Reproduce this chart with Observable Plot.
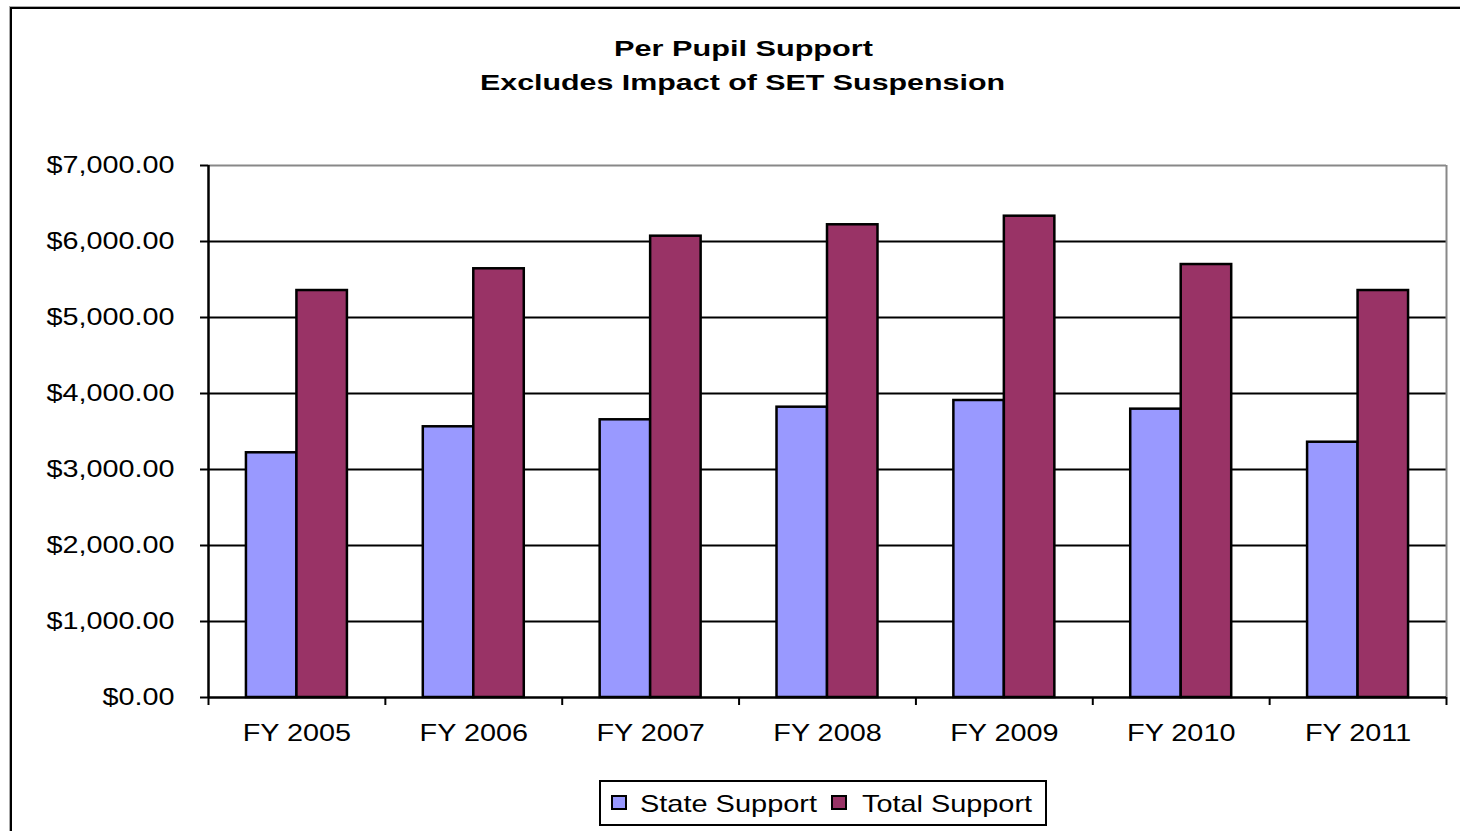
<!DOCTYPE html>
<html><head><meta charset="utf-8">
<script src="https://cdn.jsdelivr.net/npm/d3@7"></script>
<script src="https://cdn.jsdelivr.net/npm/@observablehq/plot@0.6"></script>
<style>
html,body{margin:0;padding:0;background:#fff;overflow:hidden;}
#wrap{position:relative;width:1460px;height:831px;overflow:hidden;background:#fff;}
#border{position:absolute;left:10px;top:7px;width:1500px;height:900px;border:2px solid #000;box-shadow:0 0 0 1px #aaa;pointer-events:none;}
#chart svg text{font-family:"Liberation Sans",Arial,sans-serif;}
</style></head><body>
<div id="wrap"><div id="chart"></div><div id="border"></div></div>
<script>
// ---- data ----
const years = ["FY 2005","FY 2006","FY 2007","FY 2008","FY 2009","FY 2010","FY 2011"];
const stateSupport = [3220, 3562, 3654, 3820, 3908, 3794, 3359];
const totalSupport = [5355, 5641, 6070, 6220, 6333, 5697, 5355];
const seriesNames = ["State Support","Total Support"];
const seriesColors = ["#9999FF","#993366"];
const yTicks = [0,1000,2000,3000,4000,5000,6000,7000];
const titleLines = ["Per Pupil Support","Excludes Impact of SET Suspension"];

// ---- layout ----
const W = 1460, H = 831, mL = 208, mR = 14, mT = 165, mB = 134;
const bw = (W - mL - mR) / years.length;
const barW = bw * 0.2855;
const rows = years.flatMap((y, i) => [
  {year: y, series: seriesNames[0], value: stateSupport[i]},
  {year: y, series: seriesNames[1], value: totalSupport[i]}
]);
const fmt = d => "$" + d3.format(",.2f")(d);

const plot = Plot.plot({
  width: W, height: H,
  marginLeft: mL, marginRight: mR, marginTop: mT, marginBottom: mB,
  style: {fontFamily: "'Liberation Sans', Arial, sans-serif", fontSize: "24px", color: "#000", background: "transparent"},
  x: {domain: years, padding: 0, round: false, tickSize: 0, tickPadding: 26, label: null},
  y: {domain: [0, 7000], ticks: yTicks, tickFormat: fmt, tickSize: 8, tickPadding: 26, label: null},
  color: {domain: seriesNames, range: seriesColors},
  marks: [
    Plot.ruleY(yTicks.filter(d => d > 0 && d < 7000), {stroke: "#000", strokeWidth: 2.2}),
    Plot.ruleY([yTicks[yTicks.length - 1]], {stroke: "#888", strokeWidth: 2}),
    Plot.ruleX([years[years.length - 1]], {dx: bw / 2, stroke: "#888", strokeWidth: 2}),
    Plot.barY(rows.filter(d => d.series === seriesNames[0]), {
      x: "year", y: "value", fill: "series", stroke: "#000", strokeWidth: 2.5,
      insetLeft: bw / 2 - barW, insetRight: bw / 2
    }),
    Plot.barY(rows.filter(d => d.series === seriesNames[1]), {
      x: "year", y: "value", fill: "series", stroke: "#000", strokeWidth: 2.5,
      insetLeft: bw / 2, insetRight: bw / 2 - barW
    }),
    Plot.ruleY([0], {stroke: "#000", strokeWidth: 2.5}),
    Plot.ruleX([years[0]], {dx: -bw / 2, stroke: "#000", strokeWidth: 2.5}),
    Plot.ruleX(years, {x: d => d, dx: -bw / 2, y1: 0, y2: 0, insetBottom: -8, stroke: "#000", strokeWidth: 2}),
    Plot.ruleX([years[years.length - 1]], {x: d => d, dx: bw / 2, y1: 0, y2: 0, insetBottom: -8, stroke: "#000", strokeWidth: 2})
  ]
});
document.getElementById("chart").appendChild(plot);

const svg = d3.select(plot);
// axis styling
svg.selectAll('g[aria-label^="y-axis"] line, g[aria-label^="y-axis"] path').attr("stroke-width", 2).attr("stroke", "#000");
svg.selectAll('g[aria-label^="y-axis"] .domain, g[aria-label^="x-axis"] .domain').remove();
svg.selectAll('g[aria-label^="x-axis"] text, g[aria-label^="y-axis"] text').each(function() {
  this.setAttribute("font-size", "24");
  this.style.fontSize = "24px";
  const w = this.getComputedTextLength();
  this.setAttribute("textLength", (w * 1.2).toFixed(1));
  this.setAttribute("lengthAdjust", "spacingAndGlyphs");
});

// title
const titleSpec = [{x: 743.5, y: 56, w: 259}, {x: 742.5, y: 90, w: 525}];
titleLines.forEach((t, i) => {
  svg.append("text")
    .attr("x", titleSpec[i].x).attr("y", titleSpec[i].y)
    .attr("text-anchor", "middle")
    .attr("textLength", titleSpec[i].w).attr("lengthAdjust", "spacingAndGlyphs")
    .style("font-family", "'Liberation Sans', Arial, sans-serif")
    .style("font-weight", "bold").style("font-size", "21.5px").attr("fill", "#000")
    .text(t);
});

// legend
const lg = svg.append("g").attr("text-anchor", "start");
lg.append("rect").attr("x", 600).attr("y", 781).attr("width", 446).attr("height", 44)
  .attr("fill", "#fff").attr("stroke", "#000").attr("stroke-width", 2);
const legendSpec = [{sx: 612, tx: 640, w: 177}, {sx: 832, tx: 862, w: 170}];
seriesNames.forEach((s, i) => {
  lg.append("rect").attr("x", legendSpec[i].sx).attr("y", 796).attr("width", 14).attr("height", 13)
    .attr("fill", seriesColors[i]).attr("stroke", "#000").attr("stroke-width", 2);
  lg.append("text").attr("x", legendSpec[i].tx).attr("y", 812)
    .attr("text-anchor", "start")
    .attr("textLength", legendSpec[i].w).attr("lengthAdjust", "spacingAndGlyphs")
    .style("font-family", "'Liberation Sans', Arial, sans-serif").style("font-size", "24px")
    .attr("fill", "#000").text(s);
});
</script>
</body></html>
